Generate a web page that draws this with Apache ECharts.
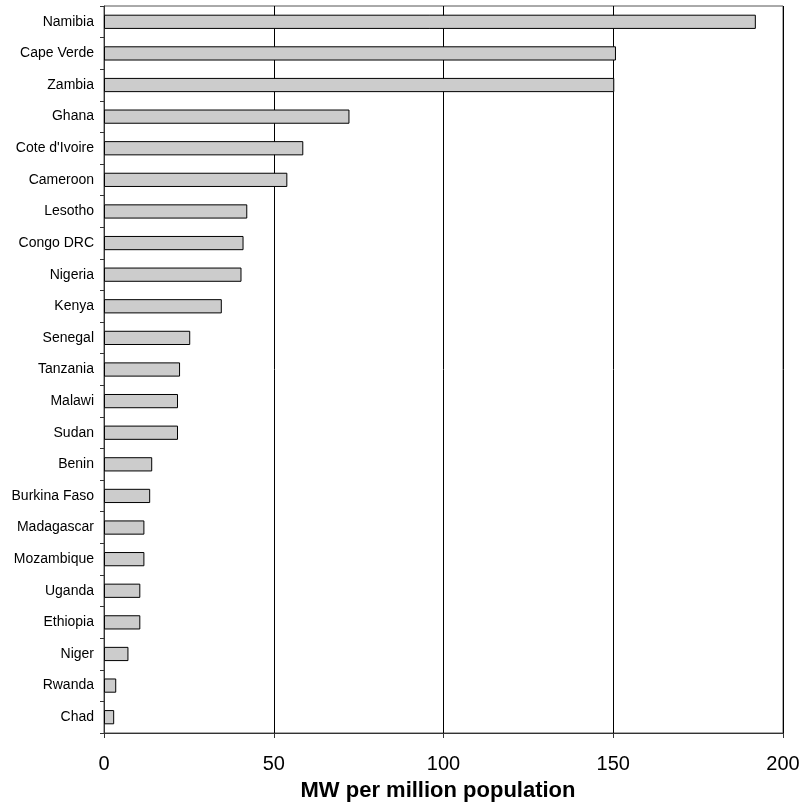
<!DOCTYPE html>
<html>
<head>
<meta charset="utf-8">
<script src="https://cdn.jsdelivr.net/npm/echarts@6/dist/echarts.min.js"></script>
<style>html,body{margin:0;padding:0;background:#fff;}#chart{width:804px;height:807px;}</style>
</head>
<body>
<div id="chart"></div>
<script>
const categories = ["Namibia","Cape Verde","Zambia","Ghana","Cote d'Ivoire","Cameroon","Lesotho","Congo DRC","Nigeria","Kenya","Senegal","Tanzania","Malawi","Sudan","Benin","Burkina Faso","Madagascar","Mozambique","Uganda","Ethiopia","Niger","Rwanda","Chad"];
const values = [192.0,150.8,150.3,72.3,58.7,54.0,42.2,41.1,40.5,34.7,25.4,22.4,21.8,21.8,14.2,13.6,11.9,11.9,10.7,10.7,7.2,3.6,3.0];
const xTicks = [0,50,100,150,200];
const xTitle = "MW per million population";

const chart = echarts.init(document.getElementById('chart'), null, {renderer:'canvas'});
chart.setOption({
  animation:false,
  backgroundColor:'#ffffff',
  grid:{left:104,right:21,top:6,bottom:74,show:true,borderColor:'#555',borderWidth:1,containLabel:false},
  xAxis:{
    type:'value',min:xTicks[0],max:xTicks[xTicks.length-1],interval:50,
    axisLine:{show:true,lineStyle:{color:'#333',width:1}},
    axisTick:{show:true,inside:false,length:5,lineStyle:{color:'#333'}},
    splitLine:{show:true,lineStyle:{color:'#000',width:1}},
    axisLabel:{fontFamily:'Liberation Sans, Arial',fontSize:20,color:'#000',margin:21},
    name:xTitle,nameLocation:'middle',nameGap:47,
    nameTextStyle:{fontFamily:'Liberation Sans, Arial',fontSize:22,fontWeight:'bold',color:'#000',padding:[0,11,0,0]}
  },
  yAxis:{
    type:'category',data:categories,inverse:true,
    axisLine:{show:true,lineStyle:{color:'#333',width:1}},
    axisTick:{show:true,inside:false,length:4,alignWithLabel:false,lineStyle:{color:'#333'}},
    axisLabel:{fontFamily:'Liberation Sans, Arial',fontSize:14,color:'#000',margin:10,interval:0,padding:[2,0,0,0]},
    splitLine:{show:false}
  },
  series:[{
    type:'bar',data:values,barWidth:'45%',
    itemStyle:{color:'#cccccc',borderColor:'#000',borderWidth:1}
  }]
});
</script>
</body>
</html>
